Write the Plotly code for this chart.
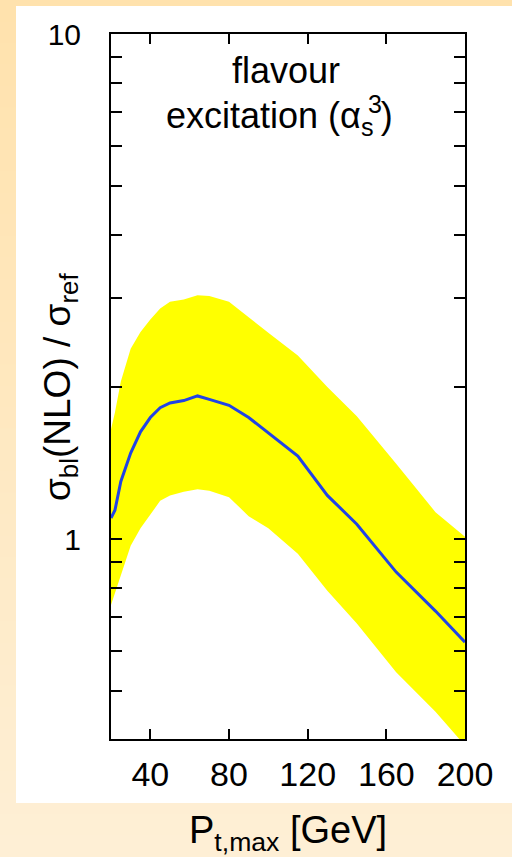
import plotly.graph_objects as go

# ---- data ----
pt_max = [20, 22, 25, 30, 35, 40, 45, 50, 57, 64, 70, 80, 90, 100, 115, 130, 145, 165, 185, 200]
ratio_central = [1.10, 1.14, 1.30, 1.48, 1.63, 1.74, 1.82, 1.86, 1.88, 1.92, 1.89, 1.84, 1.74, 1.62, 1.46, 1.22, 1.07, 0.86, 0.72, 0.625]
ratio_upper = [1.65, 1.78, 2.05, 2.38, 2.57, 2.72, 2.86, 2.95, 2.98, 3.04, 3.03, 2.95, 2.75, 2.56, 2.31, 2.00, 1.75, 1.41, 1.13, 1.01]
ratio_lower = [0.74, 0.78, 0.85, 0.97, 1.05, 1.12, 1.19, 1.22, 1.24, 1.255, 1.246, 1.21, 1.11, 1.05, 0.935, 0.79, 0.68, 0.545, 0.455, 0.39]

x_tick_vals = [40, 80, 120, 160, 200]
y_major_vals = [1, 10]
y_major_text = ["1", "10"]
y_minor_vals = [0.5, 0.6, 0.7, 0.8, 0.9, 2, 3, 4, 5, 6, 7, 8, 9]

W, H = 512, 857
L, R, T, B = 111, 47, 34, 118
PW, PH = W - L - R, H - T - B

def px_x(p):
    return (p - L) / PW

def px_y(p):
    return (H - B - p) / PH

FONT = "Liberation Sans, Arial, Helvetica, sans-serif"

fig = go.Figure()
fig.add_trace(go.Scatter(x=pt_max, y=ratio_lower, mode="lines", line=dict(width=0, color="#FFFF00"),
                         showlegend=False, hoverinfo="skip"))
fig.add_trace(go.Scatter(x=pt_max, y=ratio_upper, mode="lines", line=dict(width=0, color="#FFFF00"),
                         fill="tonexty", fillcolor="#FFFF00", showlegend=False, hoverinfo="skip"))
fig.add_trace(go.Scatter(x=pt_max, y=ratio_central, mode="lines", line=dict(width=3, color="#2143E6"),
                         showlegend=False))

# background gradient strips + white panel
shapes = []
N = 40
top_c = (255, 226, 172)
bot_c = (254, 239, 214)
for i in range(N):
    f = (i + 0.5) / N
    c = tuple(round(top_c[k] + (bot_c[k] - top_c[k]) * f) for k in range(3))
    y0 = i * H / N
    y1 = (i + 1) * H / N + 1
    shapes.append(dict(type="rect", xref="paper", yref="paper", x0=px_x(-5), x1=px_x(W + 5),
                       y0=px_y(y1), y1=px_y(y0), fillcolor="rgb(%d,%d,%d)" % c, line=dict(width=0),
                       layer="below"))
shapes.append(dict(type="rect", xref="paper", yref="paper", x0=px_x(16), x1=px_x(W + 5),
                   y0=px_y(803), y1=px_y(6), fillcolor="white", line=dict(width=0), layer="below"))

annotations = [
    dict(text="flavour", x=px_x(286), y=px_y(71), xref="paper", yref="paper", showarrow=False,
         xanchor="center", yanchor="middle", font=dict(size=36, color="black", family=FONT)),
    dict(text="excitation (α<sub>s</sub>\u2009)", x=px_x(164), y=px_y(118), xref="paper", yref="paper",
         showarrow=False, xanchor="left", yanchor="middle", font=dict(size=36, color="black", family=FONT)),
    dict(text="3", x=px_x(375), y=px_y(104), xref="paper", yref="paper",
         showarrow=False, xanchor="center", yanchor="middle", font=dict(size=25, color="black", family=FONT)),
    dict(text="σ<sub>bl</sub>(NLO) / σ<sub>ref</sub>", x=px_x(60), y=px_y(387), xref="paper", yref="paper",
         showarrow=False, textangle=-90, xanchor="center", yanchor="middle",
         font=dict(size=37, color="black", family=FONT)),
    dict(text="P<sub>t,max</sub> [GeV]", x=px_x(288), y=px_y(833), xref="paper", yref="paper",
         showarrow=False, xanchor="center", yanchor="middle", font=dict(size=38, color="black", family=FONT)),
]

fig.update_layout(
    width=W, height=H, autosize=False,
    margin=dict(l=L, r=R, t=T, b=B),
    paper_bgcolor="white", plot_bgcolor="white",
    shapes=shapes, annotations=annotations,
    showlegend=False,
    xaxis=dict(range=[20, 200], tickvals=x_tick_vals, ticks="inside", ticklen=10, tickwidth=1.5,
               tickcolor="black", showline=True, linecolor="black", linewidth=2, mirror="ticks",
               showgrid=False, zeroline=False, tickfont=dict(size=34, color="black", family=FONT),
               ticklabelstandoff=4),
    yaxis=dict(type="log", range=[-0.396, 1.0], tickvals=y_major_vals, ticktext=y_major_text,
               ticks="inside", ticklen=11, tickwidth=1.5, tickcolor="black", showline=True,
               linecolor="black", linewidth=2, mirror="ticks", showgrid=False, zeroline=False,
               tickfont=dict(size=30, color="black", family=FONT), ticklabelstandoff=22,
               minor=dict(tickvals=y_minor_vals, ticks="inside", ticklen=11, tickwidth=1.5,
                          tickcolor="black", showgrid=False)),
)

fig.write_html("out.html", config={"displayModeBar": False},
               post_script="document.body.style.margin='0';")
